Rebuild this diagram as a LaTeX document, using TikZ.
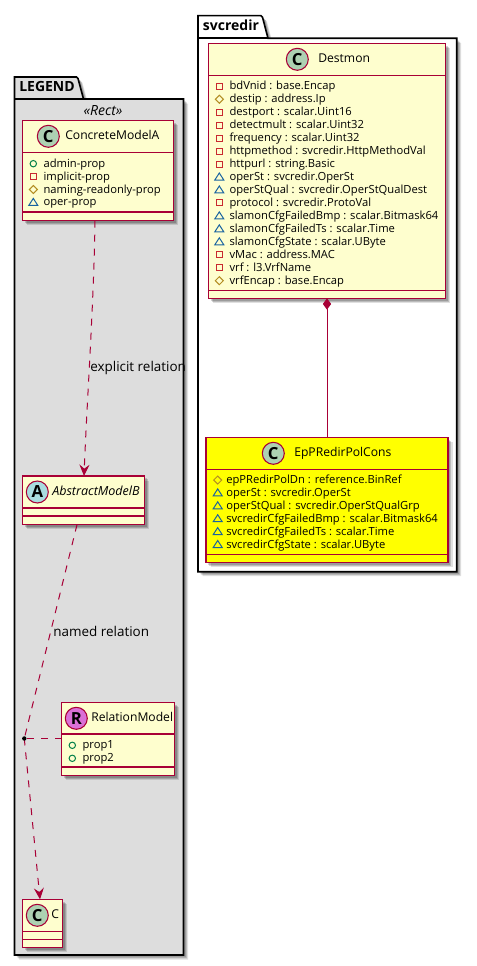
\documentclass[tikz,border=0pt]{standalone}
\usepackage{fontspec}
\setmainfont{Open Sans}
\usetikzlibrary{shadows,calc,arrows.meta}
\definecolor{umlred}{HTML}{A80036}
\definecolor{umlyellow}{HTML}{FEFECE}
\definecolor{pureyellow}{RGB}{255,255,0}
\definecolor{cicon}{HTML}{ADD1B2}
\definecolor{aicon}{HTML}{A9DCDF}
\definecolor{ricon}{HTML}{DA70D6}
\definecolor{legendgray}{HTML}{DDDDDD}
\definecolor{pubgreen}{HTML}{038048}
\definecolor{privred}{HTML}{C82930}
\definecolor{protgold}{HTML}{B38D22}
\definecolor{pkgblue}{HTML}{1963A0}
\tikzset{
  softshadow/.style={
    drop shadow={shadow xshift=1.8pt,shadow yshift=-1.8pt,fill=black,opacity=.17},
    drop shadow={shadow xshift=2.6pt,shadow yshift=-2.6pt,fill=black,opacity=.16},
    drop shadow={shadow xshift=3.4pt,shadow yshift=-3.4pt,fill=black,opacity=.12}},
  classbox/.style={draw=umlred,line width=1.1pt,inner sep=0pt,outer sep=0pt,softshadow},
  sepline/.style={draw=umlred,line width=1.1pt},
  pkgline/.style={draw=black,line width=1.2pt,softshadow},
  relation/.style={draw=umlred,line width=.75pt,dash pattern=on 5.25pt off 5.25pt},
  head/.style={-{Stealth[length=8.5pt,width=7.5pt,inset=3pt]}},
  badge/.style={circle,draw=umlred,line width=.8pt,minimum size=16.5pt,inner sep=0pt,font=\fontsize{12.5}{12.5}\selectfont\bfseries},
  cname/.style={inner sep=0pt,anchor=mid west,font=\fontsize{9.1}{11}\selectfont},
  attrtext/.style={inner sep=0pt,anchor=mid west,font=\fontsize{8.4}{10}\selectfont},
  pkgname/.style={inner sep=0pt,anchor=mid west,font=\fontsize{10.5}{12}\selectfont\bfseries},
  rellabel/.style={inner sep=0pt,anchor=mid west,font=\fontsize{10.1}{12}\selectfont},
  glyphline/.style={line width=.75pt},
}
% name, x1,y1,x2,y2, fill
\newcommand\umlclass[6]{%
  \node[classbox,fill=#6,minimum width={(#4-#2)*0.75pt},minimum height={(#5-#3)*0.75pt}] (#1) at ({(#2+#4)/2},{(#3+#5)/2}) {};}
\newcommand\umlsep[3]{\draw[sepline] (#1.west |- 0,#2) -- (#1.east |- 0,#2);\draw[sepline] (#1.west |- 0,#3) -- (#1.east |- 0,#3);}
\newcommand\pubicon[2]{\draw[glyphline,draw=pubgreen] (#1,#2) circle (3.2);}
\newcommand\privicon[2]{\draw[glyphline,draw=privred] (#1-3,#2-3) rectangle (#1+3,#2+3);}
\newcommand\proticon[2]{\draw[glyphline,draw=protgold] (#1-4,#2) -- (#1,#2-4) -- (#1+4,#2) -- (#1,#2+4) -- cycle;}
\newcommand\pkgicon[2]{\draw[glyphline,draw=pkgblue] (#1-4.5,#2+3) -- (#1,#2-4) -- (#1+4.5,#2+3) -- cycle;}
% node name, icon x, text x, y, icon macro, text
\newcommand\attrrow[6]{#5{#2}{#4}\node[attrtext] (#1) at (#3,#4) {#6};}
\begin{document}
\begin{tikzpicture}[x=0.75pt,y=-0.75pt]
\useasboundingbox (0,0) rectangle (477,966);
% LEGEND package
\path[pkgline,fill=legendgray] (14.5,77) -- (76.5,77) -- (78,78.5) -- (83.5,99) -- (183.5,99) -- (183.5,955) -- (14.5,955) -- cycle;
\draw[line width=1.2pt] (14.5,99) -- (83.5,99);
\node[pkgname] (legendname) at (19,87.7) {LEGEND};
\node[inner sep=0pt,font=\fontsize{10.5}{12}\selectfont\itshape] (rect) at (103,111) {«Rect»};
% svcredir package
\path[pkgline,fill=white] (198,15.7) -- (261,15.7) -- (262.5,17.2) -- (268,38.3) -- (456.7,38.3) -- (456.7,571.7) -- (198,571.7) -- cycle;
\draw[line width=1.2pt] (198,38.3) -- (268,38.3);
\node[pkgname] (svcname) at (202.7,27) {svcredir};
% ConcreteModelA
\umlclass{concrete}{22.5}{120.5}{173.5}{220.7}{umlyellow}
\umlsep{concrete}{152.5}{212}
\node[badge,fill=cicon] (concreteicon) at (48.3,136.3) {C};
\node[cname] (concretename) at (65,136.3) {ConcreteModelA};
\attrrow{ca}{33.3}{43.3}{163.7}{\pubicon}{admin-prop}
\attrrow{cb}{33.3}{43.3}{176.7}{\privicon}{implicit-prop}
\attrrow{cc}{33.3}{43.3}{189.5}{\proticon}{naming-readonly-prop}
\attrrow{cd}{33.3}{43.3}{202.4}{\pkgicon}{oper-prop}
% AbstractModelB
\umlclass{abstract}{22.5}{476}{144.5}{524.7}{umlyellow}
\umlsep{abstract}{508}{516}
\node[badge,fill=aicon] (abstracticon) at (37.3,492) {A};
\node[cname,font=\fontsize{9.4}{11}\selectfont\itshape] (abstractname) at (52,492) {AbstractModelB};
% RelationModel
\umlclass{relmodel}{61.5}{702.7}{174.5}{775.7}{umlyellow}
\umlsep{relmodel}{734}{767}
\node[badge,fill=ricon] (relicon) at (76.3,718.3) {R};
\node[cname] (relname) at (91,718.3) {RelationModel};
\attrrow{ra}{72.3}{82.3}{745.3}{\pubicon}{prop1}
\attrrow{rb}{72.3}{82.3}{758.3}{\pubicon}{prop2}
% C
\umlclass{cclass}{22.5}{899.3}{62.5}{947.3}{umlyellow}
\umlsep{cclass}{931.3}{939.3}
\node[badge,fill=cicon] (cicon1) at (37.3,915.3) {C};
\node[cname] (cname1) at (51,915.3) {C};
% Destmon
\umlclass{destmon}{208.5}{43.3}{445.5}{298.3}{umlyellow}
\umlsep{destmon}{75.3}{290.7}
\node[badge,fill=cicon] (desticon) at (297.3,59.3) {C};
\node[cname] (destname) at (318,59.3) {Destmon};
\attrrow{d1}{219.3}{229.3}{86.3}{\privicon}{bdVnid : base.Encap}
\attrrow{d2}{219.3}{229.3}{99.26}{\proticon}{destip : address.Ip}
\attrrow{d3}{219.3}{229.3}{112.22}{\privicon}{destport : scalar.Uint16}
\attrrow{d4}{219.3}{229.3}{125.18}{\privicon}{detectmult : scalar.Uint32}
\attrrow{d5}{219.3}{229.3}{138.14}{\privicon}{frequency : scalar.Uint32}
\attrrow{d6}{219.3}{229.3}{151.1}{\privicon}{httpmethod : svcredir.HttpMethodVal}
\attrrow{d7}{219.3}{229.3}{164.06}{\privicon}{httpurl : string.Basic}
\attrrow{d8}{219.3}{229.3}{177.02}{\pkgicon}{operSt : svcredir.OperSt}
\attrrow{d9}{219.3}{229.3}{189.98}{\pkgicon}{operStQual : svcredir.OperStQualDest}
\attrrow{d10}{219.3}{229.3}{202.94}{\privicon}{protocol : svcredir.ProtoVal}
\attrrow{d11}{219.3}{229.3}{215.9}{\pkgicon}{slamonCfgFailedBmp : scalar.Bitmask64}
\attrrow{d12}{219.3}{229.3}{228.86}{\pkgicon}{slamonCfgFailedTs : scalar.Time}
\attrrow{d13}{219.3}{229.3}{241.82}{\pkgicon}{slamonCfgState : scalar.UByte}
\attrrow{d14}{219.3}{229.3}{254.78}{\privicon}{vMac : address.MAC}
\attrrow{d15}{219.3}{229.3}{267.74}{\privicon}{vrf : l3.VrfName}
\attrrow{d16}{219.3}{229.3}{280.7}{\proticon}{vrfEncap : base.Encap}
% EpPRedirPolCons
\umlclass{eppcons}{206}{437.7}{448}{562.3}{pureyellow}
\umlsep{eppcons}{469.3}{554.3}
\node[badge,fill=cicon] (eppicon) at (273.3,453.3) {C};
\node[cname] (eppname) at (294,453.3) {EpPRedirPolCons};
\attrrow{e1}{217.7}{226}{480}{\proticon}{epPRedirPolDn : reference.BinRef}
\attrrow{e2}{217.7}{226}{492.9}{\pkgicon}{operSt : svcredir.OperSt}
\attrrow{e3}{217.7}{226}{505.8}{\pkgicon}{operStQual : svcredir.OperStQualGrp}
\attrrow{e4}{217.7}{226}{518.7}{\pkgicon}{svcredirCfgFailedBmp : scalar.Bitmask64}
\attrrow{e5}{217.7}{226}{531.6}{\pkgicon}{svcredirCfgFailedTs : scalar.Time}
\attrrow{e6}{217.7}{226}{544.5}{\pkgicon}{svcredirCfgState : scalar.UByte}
% connectors
\draw[umlred,line width=.75pt,{Diamond[length=8.5pt,width=6.2pt,fill=umlred]}-] (destmon.south) -- (eppcons.north);
\draw[relation,head] ($(concrete.south)+(-3,0)$) .. controls (94,300) and (87,400) .. ($(abstract.north)+(0.5,0)$);
\node[rellabel] (explabel) at (90,368) {explicit relation};
\coordinate (junction) at (24.3,738.5);
\draw[relation] ($(abstract.south)+(-6.5,0)$) -- (junction);
\draw[relation] (relmodel.west |- junction) -- (junction);
\draw[relation,head] (junction) -- ($(cclass.north)+(-2.5,0)$);
\fill[black] (junction) circle (2.2);
\node[rellabel] (namedlabel) at (53,633) {named relation};
\end{tikzpicture}
\end{document}
